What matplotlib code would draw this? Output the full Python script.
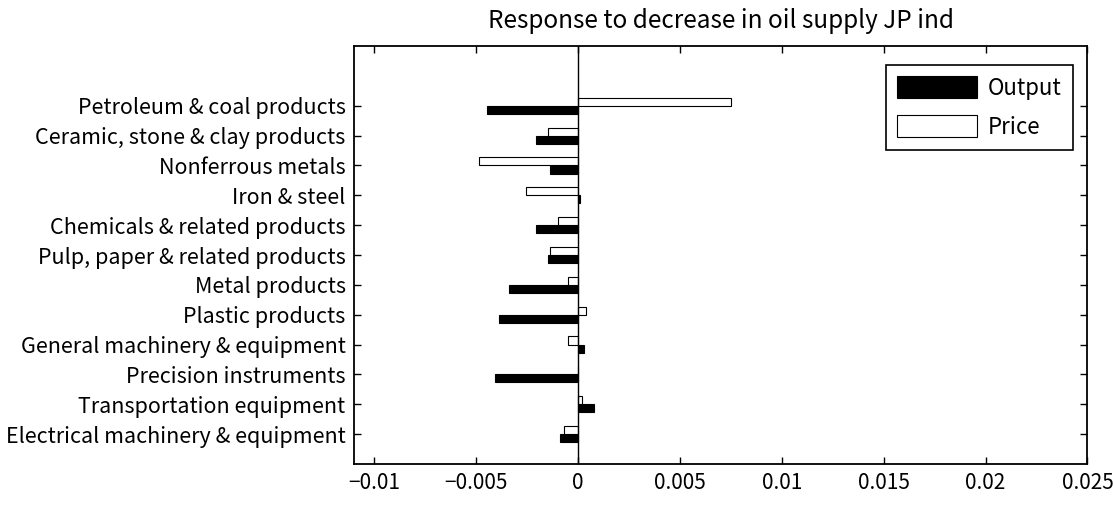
import matplotlib
matplotlib.use("Agg")
import matplotlib.pyplot as plt
import numpy as np

categories = [
    "Electrical machinery & equipment",
    "Transportation equipment",
    "Precision instruments",
    "General machinery & equipment",
    "Plastic products",
    "Metal products",
    "Pulp, paper & related products",
    "Chemicals & related products",
    "Iron & steel",
    "Nonferrous metals",
    "Ceramic, stone & clay products",
    "Petroleum & coal products",
]
output_vals = [-0.00088, 0.00080, -0.00410, 0.00031, -0.00390, -0.00341,
               -0.00147, -0.00206, 0.00011, -0.00138, -0.00206, -0.00449]
price_vals = [-0.00069, 0.00021, 0.00001, -0.00048, 0.00041, -0.00048,
              -0.00136, -0.00097, -0.00254, -0.00487, -0.00146, 0.00752]
xticks = [-0.01, -0.005, 0, 0.005, 0.01, 0.015, 0.02, 0.025]
xticklabels = ["\u22120.01", "\u22120.005", "0", "0.005", "0.01", "0.015", "0.02", "0.025"]
title = "Response to decrease in oil supply JP ind"

plt.rcParams['font.family'] = ['Noto Sans CJK JP', 'DejaVu Sans']

fig = plt.figure(figsize=(11.13, 5.07), dpi=100)
ax = fig.add_axes([0.318, 0.085, 0.659, 0.824])

y = np.arange(1, len(categories) + 1)
h = 0.27
ax.barh(y - h / 2, output_vals, height=h, color="black", edgecolor="black",
        linewidth=0.8, label="Output")
ax.barh(y + h / 2, price_vals, height=h, color="white", edgecolor="black",
        linewidth=0.8, label="Price")
ax.axvline(0, color="black", linewidth=1.0)

ax.set_xlim(-0.011, 0.025)
ax.set_ylim(0, 14)
ax.set_xticks(xticks)
ax.set_xticklabels(xticklabels, fontsize=15)
ax.set_yticks(y)
ax.set_yticklabels(categories, fontsize=15.5)
ax.tick_params(direction="in", length=5, width=1, top=True, right=True, pad=6)
for s in ax.spines.values():
    s.set_linewidth(1.3)

ax.set_title(title, fontsize=17.5, pad=13)

leg = ax.legend(loc="upper right", bbox_to_anchor=(0.98, 0.955), fontsize=16,
                handlelength=3.6, handleheight=1.15, fancybox=False,
                framealpha=1, edgecolor="black", borderpad=0.5,
                labelspacing=0.7, handletextpad=0.5, borderaxespad=0)
leg.get_frame().set_linewidth(1.2)

fig.savefig("out.png", dpi=100)
